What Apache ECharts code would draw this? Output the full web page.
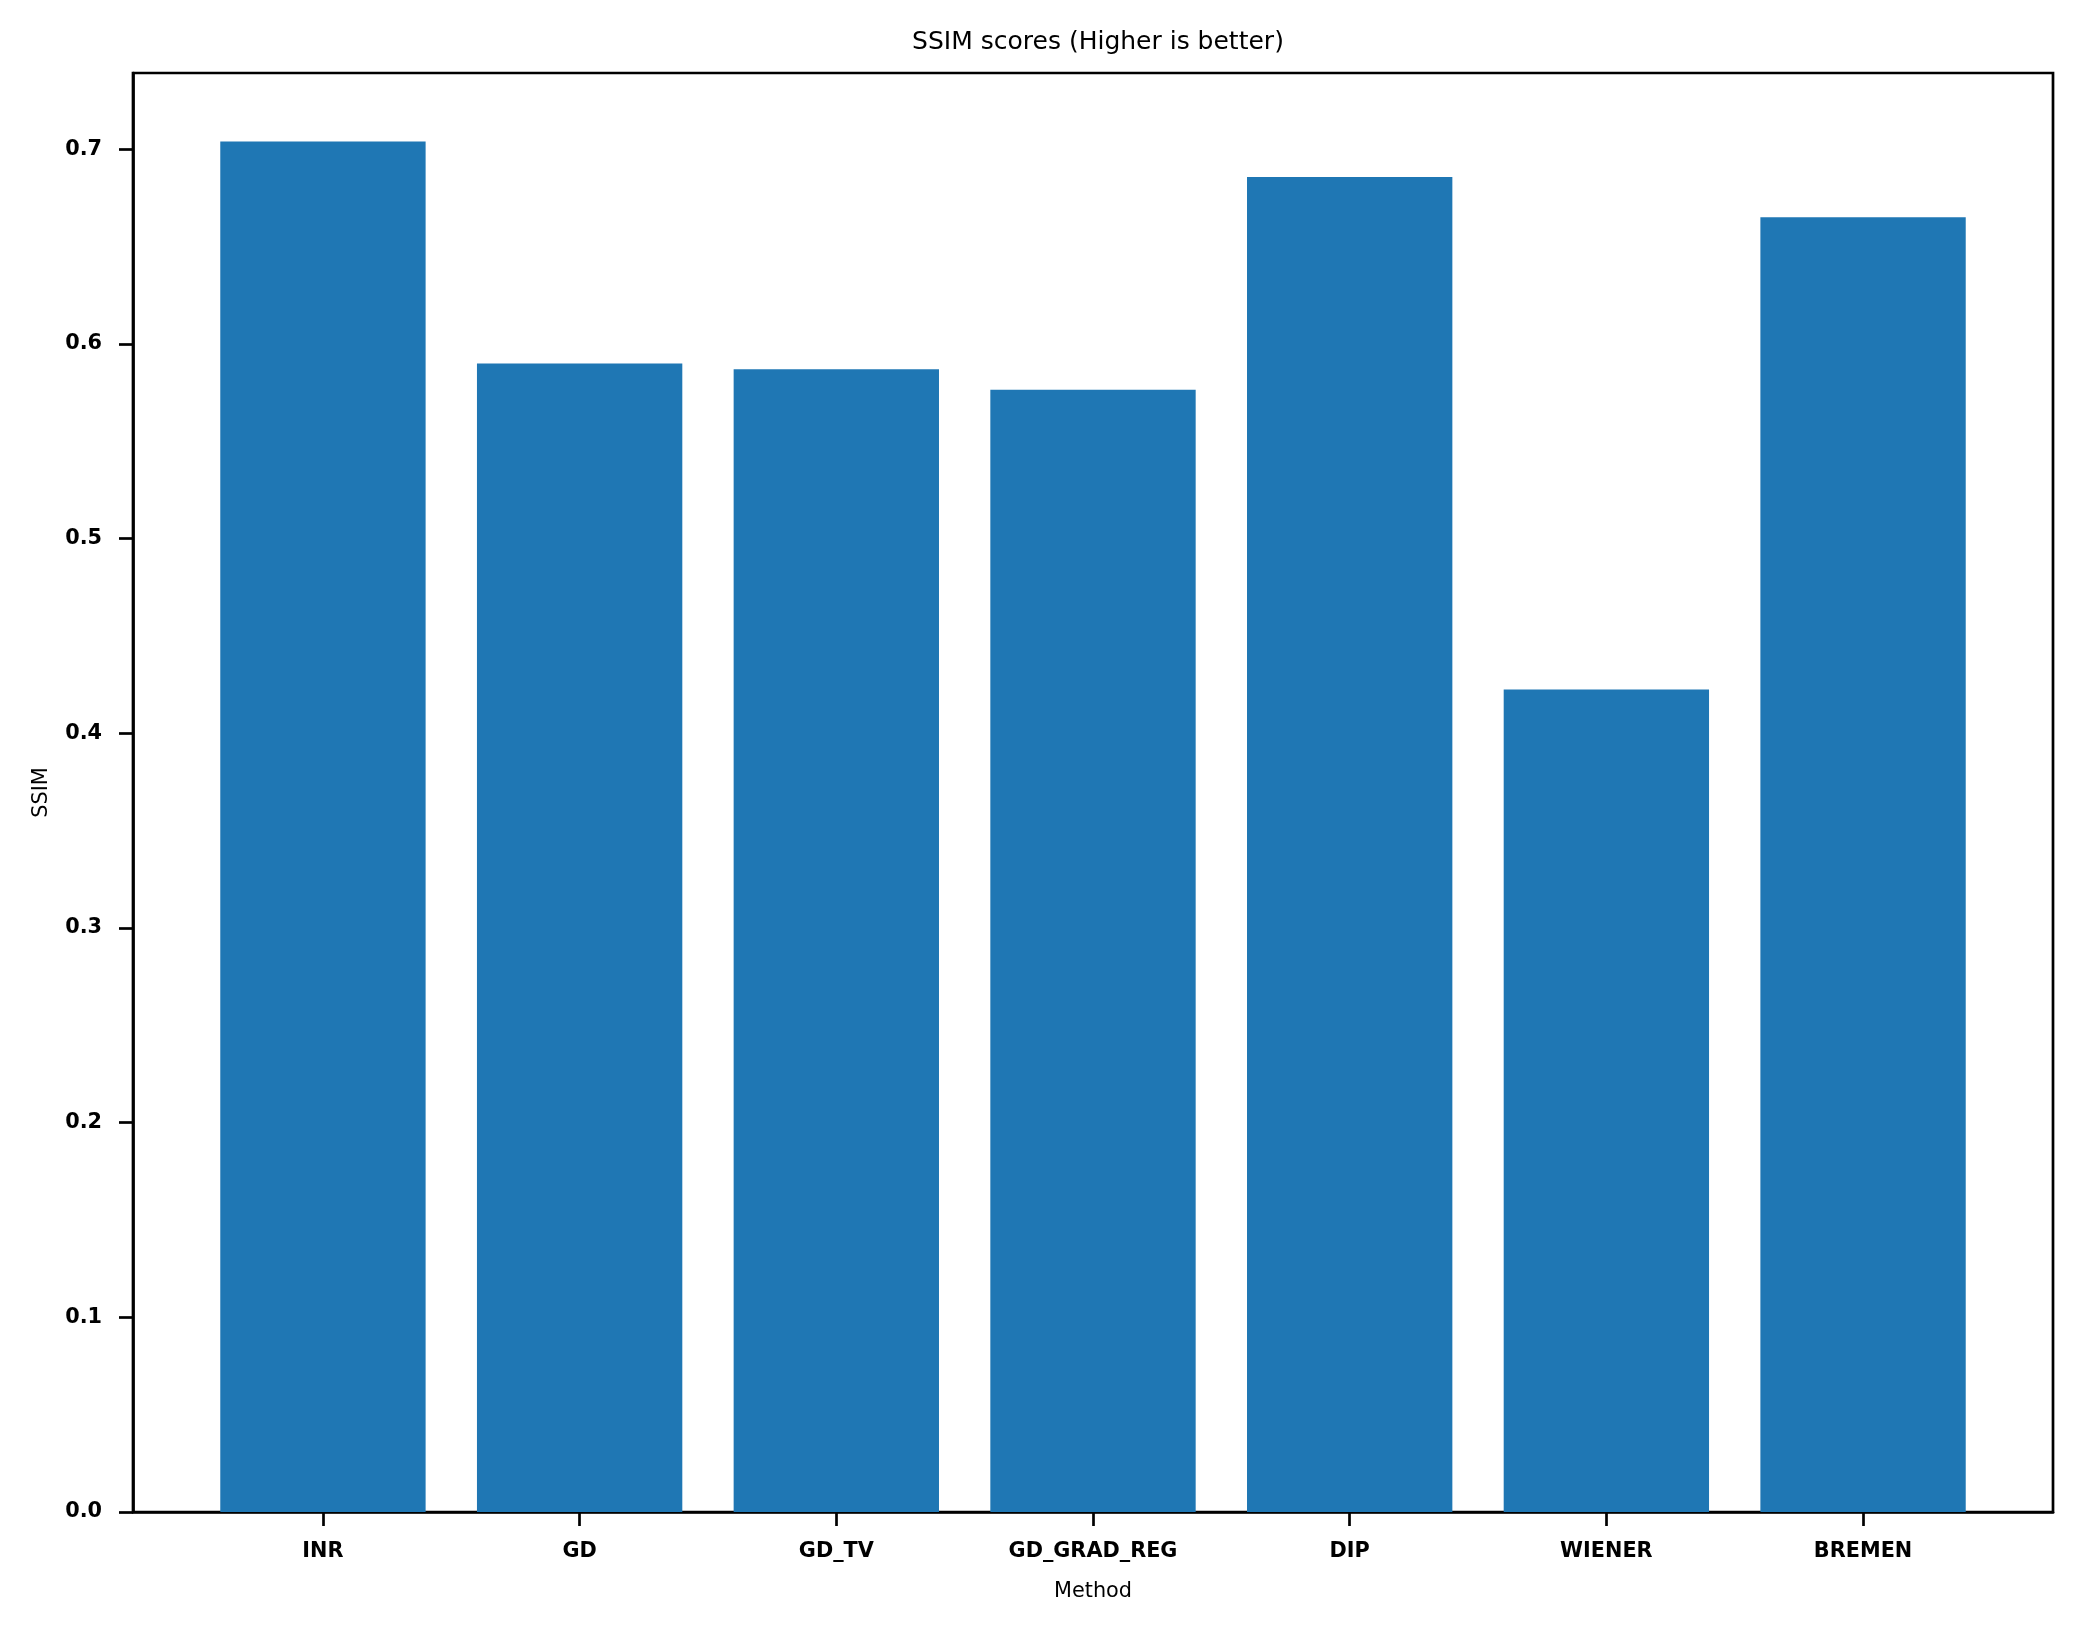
<!DOCTYPE html>
<html>
<head>
<meta charset="utf-8">
<script src="https://cdn.jsdelivr.net/npm/echarts@6/dist/echarts.min.js"></script>
<style>
html,body{margin:0;padding:0;background:#fff;}
#chart{width:2082px;height:1630px;}
</style>
</head>
<body>
<div id="chart"></div>
<script>
const categories = ["INR", "GD", "GD_TV", "GD_GRAD_REG", "DIP", "WIENER", "BREMEN"];
const ssimValues = [0.704, 0.590, 0.587, 0.5765, 0.6858, 0.4225, 0.6651];
const yTickValues = [0.0, 0.1, 0.2, 0.3, 0.4, 0.5, 0.6, 0.7];
const chartTitle = "SSIM scores (Higher is better)";
const xAxisTitle = "Method";
const yAxisTitle = "SSIM";

const positions = categories.map((c, i) => i);
const barData = ssimValues.map((v, i) => [positions[i], v]);
const maxVal = Math.max(...ssimValues);
const yMax = maxVal * 1.05;
const xMin = -0.4 - 6.8 * 0.05;
const xMax = (categories.length - 1) + 0.4 + 6.8 * 0.05;

const FONT = "DejaVu Sans";
const chart = echarts.init(document.getElementById('chart'), null, {renderer: 'canvas'});
chart.setOption({
  animation: false,
  backgroundColor: '#ffffff',
  title: {
    text: chartTitle,
    left: 1093,
    top: 25,
    textAlign: 'center',
    textStyle: {fontFamily: FONT, fontSize: 25, fontWeight: 'normal', color: '#000'}
  },
  grid: {
    left: 133, right: 29, top: 73, bottom: 118,
    show: true, borderColor: '#000', borderWidth: 2.7, backgroundColor: 'transparent'
  },
  xAxis: {
    type: 'value',
    min: xMin, max: xMax,
    name: xAxisTitle,
    nameLocation: 'middle',
    nameGap: 69,
    nameTextStyle: {fontFamily: FONT, fontSize: 20.8, color: '#000'},
    axisLine: {show: true, onZero: false, lineStyle: {color: '#000', width: 2.7}},
    axisTick: {show: true, length: 14, lineStyle: {color: '#000', width: 2.7}, customValues: positions},
    axisLabel: {
      show: true, margin: 29, customValues: positions,
      fontFamily: FONT, fontSize: 20.8, fontWeight: 'bold', color: '#000',
      formatter: v => categories[Math.round(v)] || ''
    },
    splitLine: {show: false}
  },
  yAxis: {
    type: 'value',
    min: 0, max: yMax,
    name: yAxisTitle,
    nameLocation: 'middle',
    nameGap: 81,
    nameTextStyle: {fontFamily: FONT, fontSize: 20.8, color: '#000'},
    axisLine: {show: true, onZero: false, lineStyle: {color: '#000', width: 2.7}},
    axisTick: {show: true, length: 14, lineStyle: {color: '#000', width: 2.7}, customValues: yTickValues},
    axisLabel: {
      show: true, margin: 31, customValues: yTickValues, padding: [9, 0, 0, 0],
      fontFamily: FONT, fontSize: 20.8, fontWeight: 'bold', color: '#000',
      formatter: v => v.toFixed(1)
    },
    splitLine: {show: false}
  },
  series: [{
    type: 'bar',
    data: barData,
    barWidth: '80%',
    itemStyle: {color: '#1f77b4'}
  }]
});
</script>
</body>
</html>
